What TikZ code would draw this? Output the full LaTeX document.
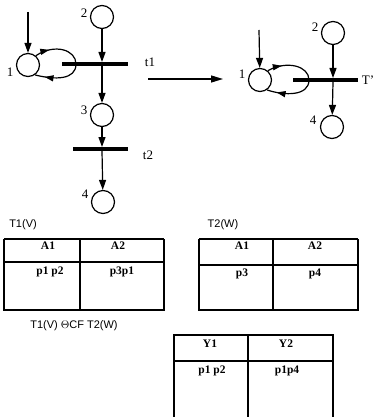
\documentclass[tikz,border=0pt]{standalone}
\usepackage{fontspec}
\setmainfont{Liberation Serif}
\newfontfamily\lsans{Liberation Sans}
\usetikzlibrary{arrows.meta,decorations.markings}
\begin{document}
\begin{tikzpicture}[x=1pt,y=-1pt,
  place/.style={draw,circle,line width=1.2pt,minimum size=23pt,inner sep=0pt},
  bar/.style={fill=black,inner sep=0pt,minimum height=4.5pt},
  arc/.style={line width=1.2pt,-{Triangle[length=10pt,width=7pt]}},
  midarr/.style={line width=1.2pt,decoration={markings,mark=at position #1 with {\arrow{Triangle[length=9pt,width=6pt]}}},postaction={decorate}},
  lbl/.style={font=\fontsize{13}{13}\selectfont,inner sep=0pt},
  tlbl/.style={font=\lsans\fontsize{11}{11}\selectfont,inner sep=0pt},
  cell/.style={font=\bfseries\fontsize{11.5}{11.5}\selectfont,inner sep=0pt},
  tab/.style={line width=2pt},
  tabin/.style={line width=1.2pt}]
\useasboundingbox (0,0) rectangle (377,417);
% ---- left net
\node[place] (L2) at (102,17) {};
\node[lbl] at (84,13) {2};
\node[bar,minimum width=66pt] (t1) at (95,64) {};
\coordinate (t1l) at (76,64);
\node[lbl] at (150,62) {t1};
\node[place] (L1) at (28,65) {};
\node[lbl] at (10,72) {1};
\coordinate (Lin) at (28,12);
\draw[arc] (Lin) -- (L1);
\draw[arc] (L2) -- (102,62);
\node[place] (L3) at (102,115) {};
\node[lbl] at (84,110) {3};
\draw[arc] (102,66) -- (L3);
\node[bar,minimum width=55pt] (t2) at (100,149) {};
\node[lbl] at (148,155) {t2};
\draw[arc] (L3) -- (102,147);
\node[place] (L4) at (103,202) {};
\node[lbl] at (85,194) {4};
\draw[arc] (102,151) -- (L4);
\draw[midarr=0.3] (L1.50) .. controls (55,43) and (76,50) .. (t1l);
\draw[midarr=0.8] (t1l) .. controls (76,80) and (55,80) .. (L1.-55);
% ---- big arrow
\coordinate (ba) at (148,79);
\coordinate (bb) at (223,79);
\draw[line width=1.3pt,-{Triangle[length=12pt,width=7pt]}] (ba) -- (bb);
% ---- right net
\node[place] (R2) at (333,33) {};
\node[lbl] at (315,27) {2};
\node[place] (R1) at (260,80) {};
\node[lbl] at (242,74) {1};
\node[bar,minimum width=65pt] (T) at (325,80) {};
\coordinate (Tl) at (309,80);
\node[lbl] at (368,80) {T'};
\coordinate (Rin) at (259,30);
\draw[arc] (Rin) -- (R1);
\draw[arc] (R2) -- (333,78);
\node[place] (R4) at (332,127) {};
\node[lbl] at (313,120) {4};
\draw[arc] (333,82) -- (R4);
\draw[midarr=0.3] (R1.50) .. controls (287,60) and (309,66) .. (Tl);
\draw[midarr=0.8] (Tl) .. controls (309,96) and (285,96) .. (R1.-55);
% ---- tables
\node[tlbl] at (23,225) {T1(V)};
\draw[tabin] (4,239) -- (164,239);
\draw[tab] (4,239) -- (4,310) -- (164,310) -- (164,239);
\draw[tabin] (4,262) -- (164,262);
\draw[tabin] (80,239) -- (80,310);
\node[cell] at (48,246) {A1};
\node[cell] at (118,246) {A2};
\node[cell] at (50,272) {p1 p2};
\node[cell] at (122,272) {p3p1};

\node[tlbl] at (223,225) {T2(W)};
\draw[tabin] (199,239) -- (358,239);
\draw[tab] (199,239) -- (199,310) -- (358,310) -- (358,239);
\draw[tabin] (199,265) -- (358,265);
\draw[tabin] (273,239) -- (273,310);
\node[cell] at (242,246) {A1};
\node[cell] at (315,246) {A2};
\node[cell] at (242,274) {p3};
\node[cell] at (315,274) {p4};

\node[tlbl] at (74,326) {T1(V) $\Theta$CF T2(W)};
\draw[tab] (174,420) -- (174,335) -- (333,335) -- (333,420);
\draw[tabin] (174,361) -- (333,361);
\draw[tabin] (248,335) -- (248,420);
\node[cell] at (210,344) {Y1};
\node[cell] at (286,344) {Y2};
\node[cell] at (212,371) {p1 p2};
\node[cell] at (287,371) {p1p4};
\end{tikzpicture}
\end{document}
